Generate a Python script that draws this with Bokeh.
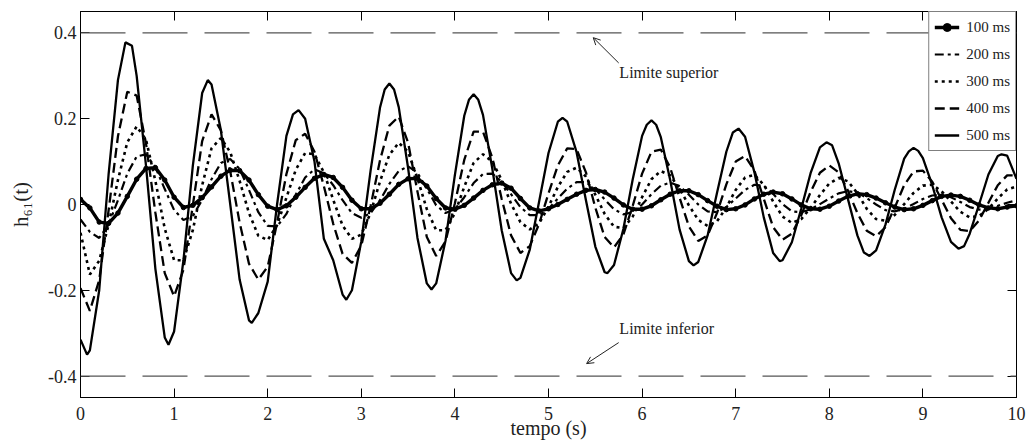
from bokeh.plotting import figure
from bokeh.models import (Range1d, LinearAxis, FixedTicker, Legend, LegendItem,
                          Label, Arrow, OpenHead, Span, ColumnDataSource)
from bokeh.embed import file_html
from bokeh.resources import INLINE

# ---------------- data ----------------
t = [0.0, 0.1, 0.2, 0.3, 0.4, 0.5, 0.6, 0.7, 0.8, 0.9,
     1.0, 1.1, 1.2, 1.3, 1.4, 1.5, 1.6, 1.7, 1.8, 1.9,
     2.0, 2.1, 2.2, 2.3, 2.4, 2.5, 2.6, 2.7, 2.8, 2.9,
     3.0, 3.1, 3.2, 3.3, 3.4, 3.5, 3.6, 3.7, 3.8, 3.9,
     4.0, 4.1, 4.2, 4.3, 4.4, 4.5, 4.6, 4.7, 4.8, 4.9,
     5.0, 5.1, 5.2, 5.3, 5.4, 5.5, 5.6, 5.7, 5.8, 5.9,
     6.0, 6.1, 6.2, 6.3, 6.4, 6.5, 6.6, 6.7, 6.8, 6.9,
     7.0, 7.1, 7.2, 7.3, 7.4, 7.5, 7.6, 7.7, 7.8, 7.9,
     8.0, 8.1, 8.2, 8.3, 8.4, 8.5, 8.6, 8.7, 8.8, 8.9,
     9.0, 9.1, 9.2, 9.3, 9.4, 9.5, 9.6, 9.7, 9.8, 9.9,
     10.0]

h100 = [0.012, -0.008, -0.041, -0.044, -0.020, 0.019, 0.059, 0.084, 0.086, 0.057,
        0.017, -0.007, -0.002, 0.016, 0.041, 0.066, 0.080, 0.079, 0.057, 0.023,
        -0.004, -0.012, -0.003, 0.017, 0.040, 0.061, 0.070, 0.063, 0.040, 0.010,
        -0.010, -0.010, 0.003, 0.024, 0.047, 0.060, 0.061, 0.043, 0.014, -0.008,
        -0.011, -0.002, 0.015, 0.033, 0.046, 0.050, 0.038, 0.014, -0.008, -0.015,
        -0.010, 0.000, 0.012, 0.024, 0.033, 0.035, 0.029, 0.015, -0.001, -0.011,
        -0.011, -0.003, 0.011, 0.024, 0.032, 0.032, 0.023, 0.009, -0.004, -0.012,
        -0.010, -0.001, 0.013, 0.024, 0.029, 0.025, 0.013, -0.001, -0.010, -0.011,
        -0.004, 0.008, 0.019, 0.025, 0.023, 0.015, 0.004, -0.006, -0.012, -0.010,
        -0.002, 0.009, 0.019, 0.022, 0.019, 0.010, -0.001, -0.008, -0.010, -0.006,
        -0.003]

h200 = [-0.035, -0.064, -0.078, -0.047, 0.010, 0.072, 0.112, 0.117, 0.087, 0.036,
        -0.013, -0.036, -0.027, 0.011, 0.059, 0.097, 0.106, 0.083, 0.034, -0.018,
        -0.050, -0.051, -0.022, 0.023, 0.063, 0.082, 0.073, 0.045, 0.010, -0.020,
        -0.031, -0.020, 0.010, 0.048, 0.078, 0.089, 0.074, 0.037, -0.002, -0.020,
        -0.011, 0.017, 0.050, 0.071, 0.072, 0.053, 0.024, -0.006, -0.025, -0.025,
        -0.010, 0.014, 0.037, 0.052, 0.052, 0.036, 0.012, -0.011, -0.023, -0.018,
        0.000, 0.024, 0.044, 0.051, 0.043, 0.023, 0.000, -0.016, -0.018, -0.006,
        0.014, 0.034, 0.046, 0.044, 0.025, 0.001, -0.016, -0.018, -0.011, 0.001,
        0.014, 0.026, 0.031, 0.028, 0.015, 0.000, -0.013, -0.016, -0.010, 0.001,
        0.013, 0.021, 0.023, 0.017, 0.006, -0.006, -0.012, -0.009, -0.003, 0.004,
        0.010]

h300 = [-0.066, -0.163, -0.131, -0.047, 0.057, 0.145, 0.182, 0.151, 0.055, -0.056,
        -0.130, -0.130, -0.060, 0.045, 0.131, 0.155, 0.122, 0.055, -0.020, -0.073,
        -0.083, -0.048, 0.016, 0.081, 0.120, 0.117, 0.075, 0.011, -0.049, -0.080,
        -0.070, -0.019, 0.054, 0.116, 0.144, 0.123, 0.061, -0.011, -0.060, -0.060,
        -0.020, 0.041, 0.097, 0.117, 0.100, 0.057, 0.002, -0.041, -0.058, -0.044,
        -0.005, 0.041, 0.076, 0.086, 0.065, 0.023, -0.022, -0.052, -0.055, -0.028,
        0.017, 0.059, 0.078, 0.068, 0.037, -0.002, -0.036, -0.050, -0.039, -0.007,
        0.034, 0.063, 0.069, 0.046, 0.007, -0.028, -0.043, -0.034, -0.008, 0.022,
        0.049, 0.062, 0.054, 0.026, -0.010, -0.034, -0.038, -0.024, 0.001, 0.027,
        0.044, 0.046, 0.031, 0.007, -0.017, -0.030, -0.027, -0.010, 0.014, 0.035,
        0.042]

h400 = [-0.195, -0.248, -0.176, -0.014, 0.159, 0.263, 0.254, 0.142, -0.019, -0.160,
        -0.214, -0.152, -0.002, 0.148, 0.210, 0.173, 0.077, -0.042, -0.138, -0.175,
        -0.145, -0.043, 0.071, 0.150, 0.165, 0.123, 0.043, -0.045, -0.115, -0.136,
        -0.096, -0.003, 0.103, 0.184, 0.205, 0.144, 0.030, -0.076, -0.120, -0.086,
        0.003, 0.104, 0.170, 0.170, 0.109, 0.013, -0.072, -0.113, -0.097, -0.045,
        0.026, 0.091, 0.131, 0.129, 0.075, -0.007, -0.076, -0.100, -0.070, -0.003,
        0.072, 0.123, 0.128, 0.086, 0.016, -0.051, -0.085, -0.072, -0.020, 0.047,
        0.100, 0.113, 0.079, 0.013, -0.053, -0.082, -0.068, -0.025, 0.029, 0.074,
        0.091, 0.075, 0.032, -0.020, -0.061, -0.074, -0.053, -0.007, 0.045, 0.077,
        0.079, 0.053, 0.011, -0.032, -0.059, -0.062, -0.037, 0.004, 0.045, 0.068,
        0.068]

t500 = [0.0, 0.07, 0.1, 0.2, 0.3, 0.4, 0.48, 0.55, 0.6, 0.7, 0.8, 0.9, 0.94,
        1.0, 1.1, 1.2, 1.3, 1.36, 1.4, 1.5, 1.6, 1.7, 1.8, 1.83, 1.9,
        2.0, 2.1, 2.2, 2.27, 2.33, 2.4, 2.5, 2.6, 2.7, 2.8, 2.84, 2.9,
        3.0, 3.1, 3.2, 3.25, 3.3, 3.35, 3.4, 3.5, 3.6, 3.7, 3.75, 3.8, 3.9,
        4.0, 4.1, 4.15, 4.2, 4.25, 4.3, 4.4, 4.5, 4.6, 4.66, 4.7, 4.8, 4.9,
        5.0, 5.1, 5.15, 5.2, 5.3, 5.4, 5.5, 5.6, 5.63, 5.7, 5.8, 5.9,
        6.0, 6.05, 6.1, 6.15, 6.2, 6.3, 6.4, 6.5, 6.55, 6.6, 6.7, 6.8, 6.9,
        6.97, 7.03, 7.1, 7.2, 7.3, 7.4, 7.47, 7.5, 7.6, 7.7, 7.8, 7.9, 7.97,
        8.03, 8.1, 8.2, 8.3, 8.37, 8.43, 8.5, 8.6, 8.7, 8.8, 8.85, 8.9, 8.95,
        9.0, 9.1, 9.2, 9.3, 9.38, 9.44, 9.5, 9.6, 9.7, 9.8, 9.84, 9.9, 10.0]

h500 = [-0.315, -0.350, -0.340, -0.200, 0.070, 0.290, 0.378, 0.370, 0.300, 0.090, -0.150, -0.310, -0.327,
        -0.296, -0.130, 0.090, 0.260, 0.290, 0.280, 0.173, 0.000, -0.175, -0.270, -0.276, -0.253,
        -0.180, 0.000, 0.160, 0.210, 0.220, 0.200, 0.100, -0.080, -0.130, -0.210, -0.222, -0.200,
        -0.086, 0.080, 0.226, 0.268, 0.282, 0.268, 0.227, 0.085, -0.078, -0.184, -0.198, -0.184, -0.084,
        0.069, 0.207, 0.244, 0.257, 0.244, 0.209, 0.083, -0.060, -0.160, -0.177, -0.171, -0.105, 0.007,
        0.120, 0.193, 0.202, 0.193, 0.122, 0.010, -0.098, -0.158, -0.160, -0.141, -0.057, 0.059,
        0.160, 0.186, 0.196, 0.186, 0.157, 0.057, -0.058, -0.132, -0.142, -0.134, -0.072, 0.027, 0.123,
        0.168, 0.177, 0.158, 0.075, -0.030, -0.113, -0.132, -0.130, -0.088, -0.010, 0.073, 0.133, 0.145,
        0.138, 0.096, 0.012, -0.072, -0.112, -0.120, -0.107, -0.047, 0.035, 0.107, 0.124, 0.132, 0.125,
        0.108, 0.045, -0.030, -0.087, -0.103, -0.097, -0.068, 0.000, 0.070, 0.113, 0.117, 0.114, 0.060]

series_labels = ["100 ms", "200 ms", "300 ms", "400 ms", "500 ms"]
x_ticks = [0, 1, 2, 3, 4, 5, 6, 7, 8, 9, 10]
y_ticks = [-0.4, -0.2, 0, 0.2, 0.4]
y_tick_labels = ["-0.4", "-0.2", "0", "0.2", "0.4"]
limits = [0.4, -0.4]
limit_texts = ["Limite superior", "Limite inferior"]

# ---------------- figure ----------------
FONT = "Liberation Serif"
p = figure(width=1026, height=443, output_backend="svg", toolbar_location=None,
           x_range=Range1d(0, 10), y_range=Range1d(-0.45, 0.45),
           min_border_left=80, min_border_right=10, min_border_top=11,
           min_border_bottom=46)
p.xgrid.visible = False
p.ygrid.visible = False
p.background_fill_color = "white"
p.outline_line_color = "black"
p.outline_line_width = 1

# extra axes (ticks only) on top and right
p.add_layout(LinearAxis(), "above")
p.add_layout(LinearAxis(), "right")

for ax in p.xaxis:
    ax.ticker = FixedTicker(ticks=x_ticks)
for ax in p.yaxis:
    ax.ticker = FixedTicker(ticks=y_ticks)
for ax in p.axis:
    ax.major_tick_in = 9
    ax.major_tick_out = 0
    ax.minor_tick_line_color = None
    ax.major_tick_line_color = "black"
    ax.axis_line_color = "black"
    ax.major_label_text_font = FONT
    ax.major_label_text_color = "#222222"
    ax.axis_label_text_font = FONT
    ax.axis_label_text_font_style = "normal"
    ax.axis_label_text_color = "#222222"

top_ax = p.above[0]
top_ax.major_label_overrides = {v: "" for v in x_ticks}
top_ax.major_label_text_font_size = "6px"
top_ax.major_label_standoff = 0
right_ax = p.right[0]
right_ax.major_label_overrides = {v: "" for v in y_ticks}
right_ax.major_label_text_font_size = "6px"
right_ax.major_label_standoff = 0

bx = p.below[0]
bx.major_label_text_font_size = "18px"
bx.major_label_standoff = 9
bx.axis_label = "tempo (s)"
bx.axis_label_text_font_size = "20px"
bx.axis_label_standoff = -6

ly = p.left[0]
ly.major_label_text_font_size = "18px"
ly.major_label_standoff = 4
ly.major_label_overrides = {v: s for v, s in zip(y_ticks, y_tick_labels)}
ly.axis_label = "h\u2086\u2081(t)"
ly.axis_label_text_font_size = "21px"
ly.axis_label_standoff = 12

# reference limits
for lv in limits:
    p.add_layout(Span(location=lv, dimension="width", line_color="#555555",
                      line_width=1.2, line_dash="45 17"))

# series
src = ColumnDataSource(dict(t=t, h100=h100, h200=h200, h300=h300, h400=h400))
src5 = ColumnDataSource(dict(t=t500, h500=h500))

r100 = p.line("t", "h100", source=src, line_color="black", line_width=3.4)
m100 = p.scatter("t", "h100", source=src, size=4.5, marker="circle",
                 fill_color="black", line_color="black")
r200 = p.line("t", "h200", source=src, line_color="black", line_width=2.2,
              line_dash="9 4 3 4")
r300 = p.line("t", "h300", source=src, line_color="black", line_width=2.6,
              line_dash="3 4")
r400 = p.line("t", "h400", source=src, line_color="black", line_width=2.3,
              line_dash="10 5")
r500 = p.line("t", "h500", source=src5, line_color="black", line_width=2.3)

legend = Legend(items=[
    LegendItem(label=series_labels[0], renderers=[r100, m100]),
    LegendItem(label=series_labels[1], renderers=[r200]),
    LegendItem(label=series_labels[2], renderers=[r300]),
    LegendItem(label=series_labels[3], renderers=[r400]),
    LegendItem(label=series_labels[4], renderers=[r500]),
], location="top_right")
legend.margin = 0
legend.padding = 5
legend.spacing = 7
legend.glyph_width = 25
legend.glyph_height = 20
legend.label_height = 20
legend.label_standoff = 7
legend.label_text_font = FONT
legend.label_text_font_size = "15px"
legend.label_text_color = "#222222"
legend.border_line_color = "black"
legend.border_line_width = 1
legend.background_fill_color = "white"
legend.background_fill_alpha = 1
p.add_layout(legend)

# annotations
p.add_layout(Label(x=5.757, y=0.289, text=limit_texts[0], text_font=FONT,
                   text_font_size="16px", text_color="#222222"))
p.add_layout(Label(x=5.757, y=-0.308, text=limit_texts[1], text_font=FONT,
                   text_font_size="16px", text_color="#222222"))
p.add_layout(Arrow(end=OpenHead(size=7, line_width=1, line_color="#222222"),
                   x_start=5.75, y_start=0.33, x_end=5.478, y_end=0.389,
                   line_width=1, line_color="#222222"))
p.add_layout(Arrow(end=OpenHead(size=7, line_width=1, line_color="#222222"),
                   x_start=5.75, y_start=-0.322, x_end=5.407, y_end=-0.371,
                   line_width=1, line_color="#222222"))

open("out.html", "w").write(file_html(p, INLINE))
